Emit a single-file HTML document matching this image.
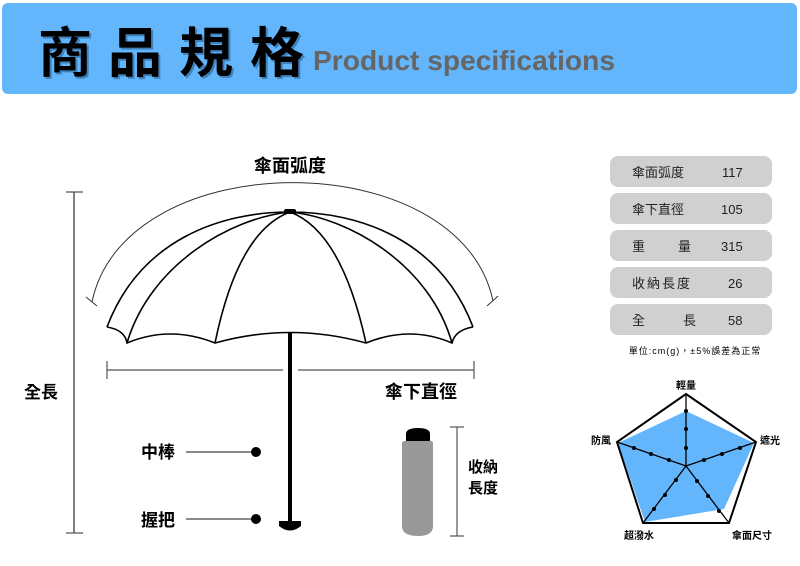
<!DOCTYPE html>
<html><head><meta charset="utf-8"><style>
html,body{margin:0;padding:0;background:#fff;}
svg{display:block;}
text{font-family:"Liberation Sans","Noto Sans CJK TC",sans-serif;}
</style></head><body>
<svg width="800" height="566" viewBox="0 0 800 566" xmlns="http://www.w3.org/2000/svg">
<rect x="2" y="3" width="795" height="91" rx="6" fill="#63b5fc"/>
<g font-size="54" font-family="'Noto Sans CJK TC',sans-serif" font-weight="bold">
<g fill="#1d4f7a" opacity="0.5">
<text x="40" y="74">商</text><text x="110" y="74">品</text><text x="181" y="74">規</text><text x="252" y="74">格</text>
</g>
<g fill="#000">
<text x="38" y="72">商</text><text x="108" y="72">品</text><text x="179" y="72">規</text><text x="250" y="72">格</text>
</g>
</g>
<text x="313" y="70" font-size="28" font-weight="bold" fill="#666" textLength="302" lengthAdjust="spacingAndGlyphs">Product specifications</text>

<text x="290" y="172" font-size="18" font-weight="bold" text-anchor="middle" font-family="'Noto Sans CJK TC',sans-serif">傘面弧度</text>
<path d="M92,302 C125,143 460,143 493,301" fill="none" stroke="#333" stroke-width="1"/>
<line x1="86" y1="297" x2="97" y2="306" stroke="#333"/>
<line x1="487" y1="306" x2="498" y2="296" stroke="#333"/>

<g fill="none" stroke="#000" stroke-width="1.6">
<path d="M107,327 C140,240 220,212 290,212 C360,212 440,240 473,327"/>
<path d="M127,343 C150,265 230,218 290,212 C350,218 430,265 452,343"/>
<path d="M215,343 C230,270 255,225 290,212 C325,225 350,270 366,343"/>
<path d="M107,327 Q125,330 127,343 Q170,325 215,343 Q290,322 366,343 Q410,325 452,343 Q455,330 473,327"/>
</g>
<rect x="284" y="209" width="12" height="5" rx="2" fill="#000"/>
<rect x="288" y="333" width="4" height="190" fill="#000"/>
<path d="M279,521 L301,521 L301,526 Q290,535 279,526 Z" fill="#000"/>

<g stroke="#555" stroke-width="1.2">
<line x1="107" y1="370" x2="283" y2="370"/>
<line x1="298" y1="370" x2="474" y2="370"/>
<line x1="107" y1="361" x2="107" y2="379"/>
<line x1="474" y1="361" x2="474" y2="379"/>
<line x1="74" y1="192" x2="74" y2="533" stroke-width="1.5"/>
<line x1="66" y1="192" x2="83" y2="192"/>
<line x1="66" y1="533" x2="83" y2="533"/>
<line x1="457" y1="427" x2="457" y2="536"/>
<line x1="450" y1="427" x2="464" y2="427"/>
<line x1="450" y1="536" x2="464" y2="536"/>
<line x1="186" y1="452" x2="256" y2="452" stroke="#444"/>
<line x1="186" y1="519" x2="256" y2="519" stroke="#444"/>
</g>
<circle cx="256" cy="452" r="5" fill="#000"/>
<circle cx="256" cy="519" r="5" fill="#000"/>
<g font-size="17" font-weight="bold" font-family="'Noto Sans CJK TC',sans-serif">
<text x="385" y="398" font-size="18">傘下直徑</text>
<text x="24" y="398">全長</text>
<text x="141" y="458">中棒</text>
<text x="141" y="526">握把</text>
<text x="468" y="472" font-size="15">收納</text>
<text x="468" y="493" font-size="15">長度</text>
</g>
<path d="M406,441 L406,434 Q406,428 418,428 Q430,428 430,434 L430,441 Z" fill="#000"/>
<path d="M402,443 Q402,441 405,441 L430,441 Q433,441 433,443 L433,526 Q433,536 418,536 Q402,536 402,526 Z" fill="#999"/>

<g fill="#d0d0d0">
<rect x="610" y="156" width="162" height="31" rx="8"/>
<rect x="610" y="193" width="162" height="31" rx="8"/>
<rect x="610" y="230" width="162" height="31" rx="8"/>
<rect x="610" y="267" width="162" height="31" rx="8"/>
<rect x="610" y="304" width="162" height="31" rx="8"/>
</g>
<g font-size="13" fill="#222" font-family="'Noto Sans CJK TC',sans-serif">
<text x="632" y="177">傘面弧度</text><text x="722" y="177" font-family="'Liberation Sans',sans-serif">117</text>
<text x="632" y="214">傘下直徑</text><text x="721" y="214" font-family="'Liberation Sans',sans-serif">105</text>
<text x="632" y="251">重</text><text x="678" y="251">量</text><text x="721" y="251" font-family="'Liberation Sans',sans-serif">315</text>
<text x="632" y="288" letter-spacing="2">收納長度</text><text x="728" y="288" font-family="'Liberation Sans',sans-serif">26</text>
<text x="632" y="325">全</text><text x="683" y="325">長</text><text x="728" y="325" font-family="'Liberation Sans',sans-serif">58</text>
</g>
<text x="695" y="354" font-size="9" text-anchor="middle" letter-spacing="1" font-family="'Noto Sans CJK TC',sans-serif">單位:cm(g)，±5%誤差為正常</text>

<polygon points="686,411 754,443 724,509 645,522 618,443" fill="#63b5fc"/>
<polygon points="686,394 756,442 729,523 643,523 617,442" fill="none" stroke="#000" stroke-width="2"/>
<g stroke="#000" stroke-width="1.3">
<line x1="686" y1="466" x2="686" y2="394"/>
<line x1="686" y1="466" x2="756" y2="442"/>
<line x1="686" y1="466" x2="729" y2="523"/>
<line x1="686" y1="466" x2="643" y2="523"/>
<line x1="686" y1="466" x2="617" y2="442"/>
</g>
<g fill="#000">
<circle cx="686" cy="411" r="2"/><circle cx="686" cy="429" r="2"/><circle cx="686" cy="448" r="2"/>
<circle cx="740" cy="448" r="2"/><circle cx="722" cy="454" r="2"/><circle cx="704" cy="460" r="2"/>
<circle cx="719" cy="511" r="2"/><circle cx="708" cy="496" r="2"/><circle cx="697" cy="481" r="2"/>
<circle cx="654" cy="509" r="2"/><circle cx="665" cy="495" r="2"/><circle cx="676" cy="480" r="2"/>
<circle cx="634" cy="448" r="2"/><circle cx="651" cy="454" r="2"/><circle cx="669" cy="460" r="2"/>
</g>
<g font-size="10" font-weight="bold" font-family="'Noto Sans CJK TC',sans-serif">
<text x="686" y="389" text-anchor="middle">輕量</text>
<text x="760" y="444">遮光</text>
<text x="752" y="539" text-anchor="middle">傘面尺寸</text>
<text x="639" y="539" text-anchor="middle">超潑水</text>
<text x="591" y="444">防風</text>
</g>
</svg>
</body></html>
